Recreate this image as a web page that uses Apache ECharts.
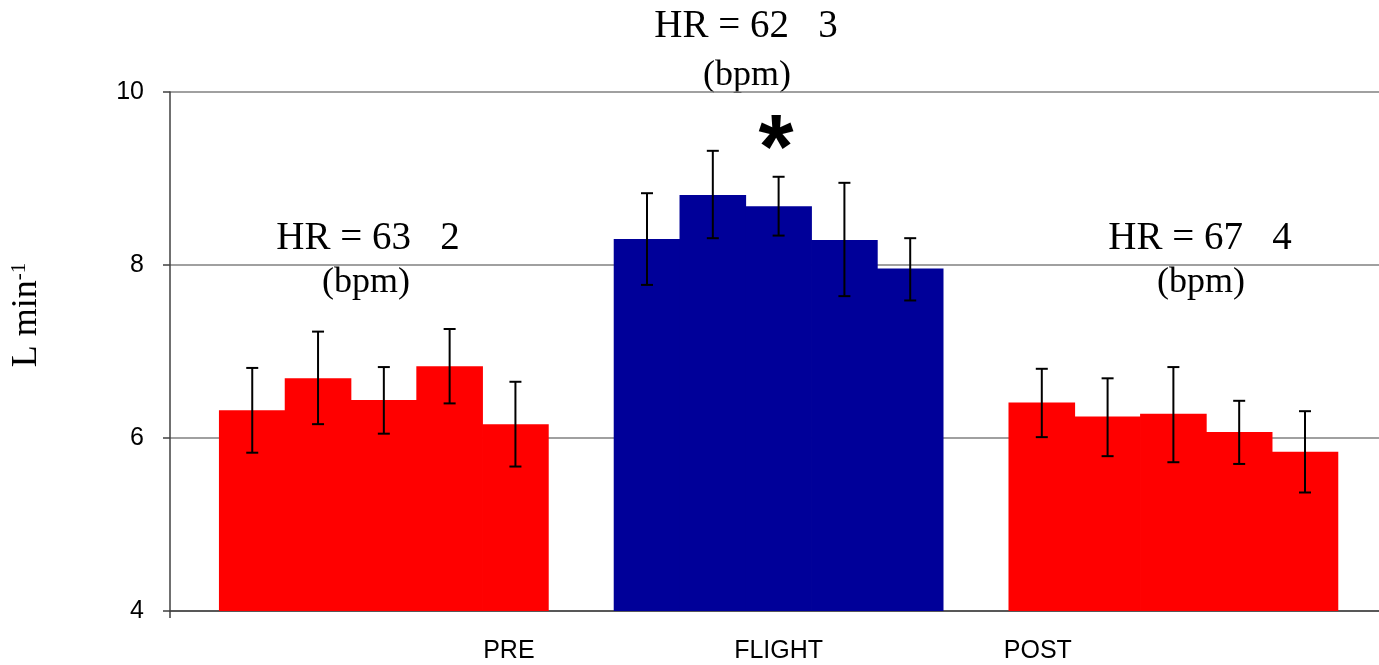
<!DOCTYPE html>
<html><head><meta charset="utf-8">
<script src="https://cdn.jsdelivr.net/npm/echarts@6/dist/echarts.min.js"></script>
<style>html,body{margin:0;padding:0;background:#fff}#c{width:1379px;height:665px}</style>
</head><body><div id="c"></div>
<script>
// ---- data ----
const groups = ['PRE', 'FLIGHT', 'POST'];
const preMean = [6.32, 6.69, 6.44, 6.83, 6.16];
const preLow = [5.83, 6.16, 6.05, 6.40, 5.67];
const preHigh = [6.81, 7.23, 6.82, 7.26, 6.65];
const flightMean = [8.30, 8.81, 8.68, 8.29, 7.96];
const flightLow = [7.77, 8.31, 8.34, 7.64, 7.59];
const flightHigh = [8.83, 9.32, 9.02, 8.95, 8.31];
const postMean = [6.41, 6.25, 6.28, 6.07, 5.84];
const postLow = [6.01, 5.79, 5.72, 5.70, 5.37];
const postHigh = [6.80, 6.69, 6.82, 6.43, 6.31];
const hrLabels = ['HR = 63   2', 'HR = 62   3', 'HR = 67   4'];
const unitLabel = '(bpm)';
const yTicks = [4, 6, 8, 10];

// ---- layout ----
const groupColors = ['#ff0000', '#000099', '#ff0000'];
const groupLabelPos = [3.9, 8.0, 11.94];
const serif = '"Liberation Serif","Times New Roman",serif';
const sans = '"Liberation Sans",Arial,sans-serif';

const means = [preMean, flightMean, postMean];
const lows = [preLow, flightLow, postLow];
const highs = [preHigh, flightHigh, postHigh];

const series = [];
groups.forEach((g, gi) => {
  series.push({
    type: 'bar', name: g, barWidth: 66.6, barGap: '-100%',
    itemStyle: { color: groupColors[gi] },
    data: means[gi].map((v, i) => [gi * 6 + i, v]),
    z: 2
  });
});
const errData = [];
groups.forEach((g, gi) => {
  means[gi].forEach((v, i) => errData.push([gi * 6 + i, lows[gi][i], highs[gi][i]]));
});
series.push({
  type: 'custom', z: 5,
  data: errData,
  encode: { x: 0, y: [1, 2] },
  renderItem: (params, api) => {
    const x = api.value(0);
    const lo = api.coord([x, api.value(1)]);
    const hi = api.coord([x, api.value(2)]);
    const hw = 6;
    const st = { stroke: '#000', lineWidth: 2 };
    return {
      type: 'group', children: [
        { type: 'line', shape: { x1: lo[0], y1: lo[1], x2: hi[0], y2: hi[1] }, style: st },
        { type: 'line', shape: { x1: hi[0] - hw, y1: hi[1], x2: hi[0] + hw, y2: hi[1] }, style: st },
        { type: 'line', shape: { x1: lo[0] - hw, y1: lo[1], x2: lo[0] + hw, y2: lo[1] }, style: st }
      ]
    };
  }
});

const hrPos = [[368, 239], [746, 27], [1200, 239]];
const bpmPos = [[366, 283], [747, 76], [1201, 283]];
const graphics = [];
hrLabels.forEach((t, i) => {
  graphics.push({ type: 'text', x: hrPos[i][0], y: hrPos[i][1], style: { text: t, font: '39px ' + serif, fill: '#000', align: 'center', verticalAlign: 'middle' } });
  graphics.push({ type: 'text', x: bpmPos[i][0], y: bpmPos[i][1], style: { text: unitLabel, font: '36px ' + serif, fill: '#000', align: 'center', verticalAlign: 'middle' } });
});
graphics.push({ type: 'text', x: 776, y: 153, style: { text: '*', font: 'bold 90px ' + sans, fill: '#000', align: 'center', verticalAlign: 'middle' } });
graphics.push({
  type: 'text', x: 27, y: 315, rotation: Math.PI / 2,
  style: {
    text: '{a|L min}{b|-1}', align: 'center', verticalAlign: 'middle', fill: '#000',
    rich: {
      a: { fontFamily: serif, fontSize: 36, fill: '#000', verticalAlign: 'bottom' },
      b: { fontFamily: serif, fontSize: 21, fill: '#000', verticalAlign: 'top' }
    }
  }
});

const chart = echarts.init(document.getElementById('c'), null, { renderer: 'canvas' });
chart.setOption({
  animation: false,
  backgroundColor: '#fff',
  grid: { left: 170, right: 0, top: 92, bottom: 54, containLabel: false },
  xAxis: {
    type: 'value', min: -1.25, max: 17.125,
    axisLine: { show: true, onZero: false, lineStyle: { color: '#404040', width: 1.5 } },
    splitLine: { show: false },
    axisTick: { show: true, customValues: [-1.25], length: 7, lineStyle: { color: '#404040', width: 1.5 } },
    axisLabel: {
      customValues: groupLabelPos, margin: 28, fontSize: 25, fontFamily: sans, color: '#000',
      formatter: v => {
        let best = 0;
        groupLabelPos.forEach((p, i) => { if (Math.abs(p - v) < Math.abs(groupLabelPos[best] - v)) best = i; });
        return groups[best];
      }
    }
  },
  yAxis: {
    type: 'value', min: yTicks[0], max: yTicks[yTicks.length - 1], interval: 2,
    axisLine: { show: true, onZero: false, lineStyle: { color: '#404040', width: 1.5 } },
    axisTick: { show: true, length: 7, lineStyle: { color: '#404040', width: 1.5 } },
    splitLine: { show: true, lineStyle: { color: '#808080', width: 1.5 } },
    axisLabel: { fontSize: 25, fontFamily: sans, color: '#000', margin: 26 }
  },
  series: series,
  graphic: graphics
});
</script></body></html>
